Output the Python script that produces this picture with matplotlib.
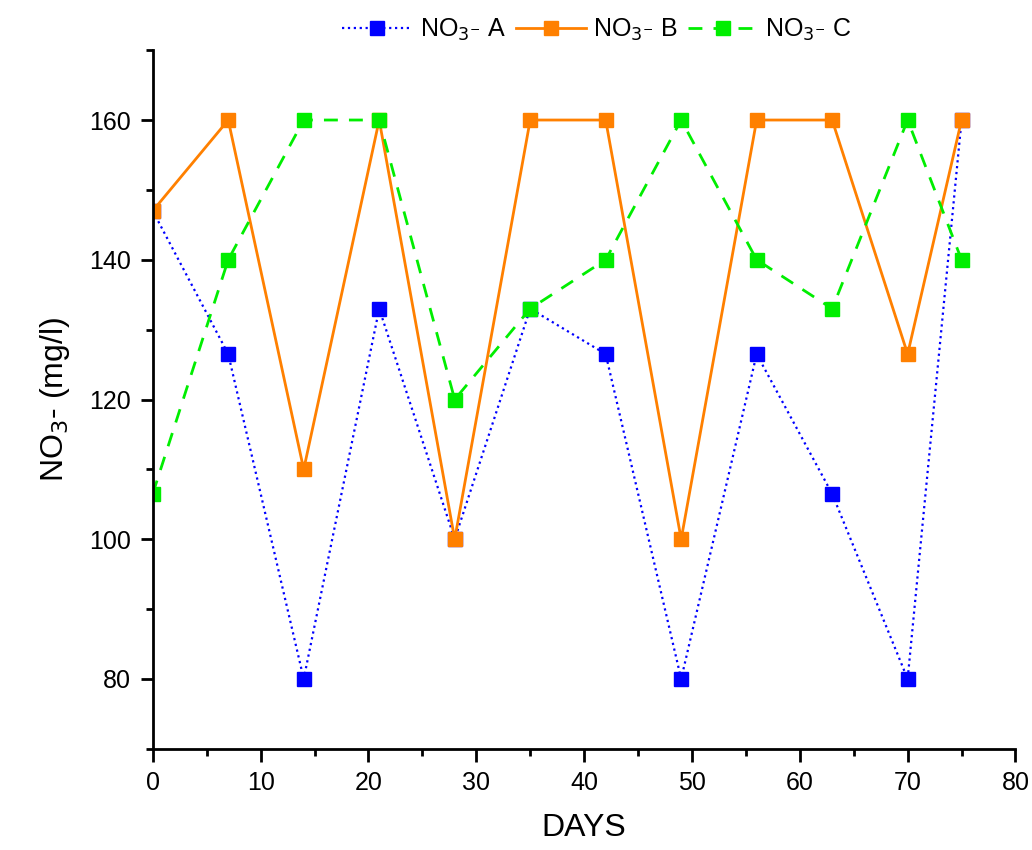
import matplotlib.pyplot as plt
from matplotlib.ticker import MultipleLocator

plt.rcParams['font.family'] = ['Liberation Sans', 'DejaVu Sans']

days = [0, 7, 14, 21, 28, 35, 42, 49, 56, 63, 70, 75]
no3_a = [147, 126.5, 80, 133, 100, 133, 126.5, 80, 126.5, 106.5, 80, 160]
no3_b = [147, 160, 110, 160, 100, 160, 160, 100, 160, 160, 126.5, 160]
no3_c = [106.5, 140, 160, 160, 120, 133, 140, 160, 140, 133, 160, 140]

fig = plt.figure(figsize=(10.32, 8.5), dpi=100)
ax = fig.add_axes([0.148, 0.119, 0.836, 0.822])

ax.plot(days, no3_a, color="#0000ff", linestyle=":", linewidth=1.6, marker="s",
        markersize=10, label=r"NO$_{3^{-}}$ A")
ax.plot(days, no3_b, color="#ff8000", linestyle="-", linewidth=2, marker="s",
        markersize=10, label=r"NO$_{3^{-}}$ B")
ax.plot(days, no3_c, color="#00ee00", linestyle=(0, (5, 4)), linewidth=2, marker="s",
        markersize=10, label=r"NO$_{3^{-}}$ C")

ax.set_xlim(0, 80)
ax.set_ylim(70, 170)
ax.xaxis.set_major_locator(MultipleLocator(10))
ax.xaxis.set_minor_locator(MultipleLocator(5))
ax.set_yticks([80, 100, 120, 140, 160])
ax.yaxis.set_minor_locator(MultipleLocator(10))
ax.tick_params(which="major", direction="out", length=9, width=2, labelsize=18, pad=7)
ax.tick_params(which="minor", direction="out", length=5, width=2)

for side in ["top", "right"]:
    ax.spines[side].set_visible(False)
for side in ["left", "bottom"]:
    ax.spines[side].set_linewidth(2)

ax.set_xlabel("DAYS", fontsize=23, labelpad=13)
ax.set_ylabel(r"NO$_3$- (mg/l)", fontsize=23, labelpad=12)

ax.legend(loc="upper center", bbox_to_anchor=(0.515, 1.08), ncol=3, frameon=False,
          fontsize=18, handlelength=2.8, columnspacing=0.4, handletextpad=0.3)

fig.savefig("out.png", dpi=100)
